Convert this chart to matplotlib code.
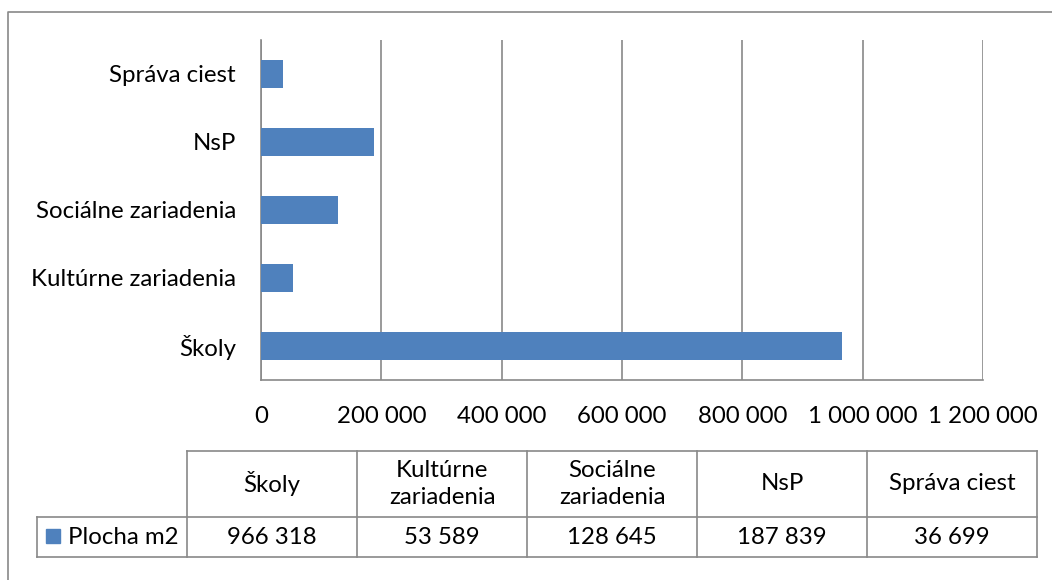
import matplotlib.pyplot as plt
from matplotlib.ticker import FuncFormatter

plt.rcParams['font.family'] = ['Lato', 'DejaVu Sans']

categories = ['Školy', 'Kultúrne zariadenia', 'Sociálne zariadenia', 'NsP', 'Správa ciest']
table_headers = ['Školy', 'Kultúrne\nzariadenia', 'Sociálne\nzariadenia', 'NsP', 'Správa ciest']
values = [966318, 53589, 128645, 187839, 36699]
series_name = 'Plocha m2'
x_ticks = [0, 200000, 400000, 600000, 800000, 1000000, 1200000]

bar_color = '#4F81BD'
line_color = '#898989'
fs = 17.3

W, H = 1052, 580


def fmt(v, pos=None):
    return f'{v:,.0f}'.replace(',', ' ')


fig = plt.figure(figsize=(W / 100, H / 100), dpi=100)

# outer chart frame (only left and top visible in the crop)
frame = fig.add_axes([0, 0, 1, 1])
frame.set_xlim(0, W)
frame.set_ylim(H, 0)
frame.axis('off')
frame.plot([7.5, 7.5, W], [H, 11.5, 11.5], color=line_color, lw=1.2)

# bar chart
left, right, top, bottom = 261, 983, 40, 380
ax = fig.add_axes([left / W, 1 - bottom / H, (right - left) / W, (bottom - top) / H])
ax.barh(range(len(categories)), values, height=0.4, color=bar_color, zorder=3)
ax.set_yticks(range(len(categories)))
ax.set_yticklabels(categories, fontsize=fs)
ax.set_ylim(-0.5, len(categories) - 0.5)
ax.set_xlim(0, x_ticks[-1])
ax.set_xticks(x_ticks)
ax.xaxis.set_major_formatter(FuncFormatter(fmt))
ax.tick_params(axis='x', length=0, pad=18.5, labelsize=fs)
ax.tick_params(axis='y', length=0, pad=18)
ax.grid(axis='x', color=line_color, lw=1.2, zorder=0)
for s in ['top', 'right']:
    ax.spines[s].set_visible(False)
for s in ['left', 'bottom']:
    ax.spines[s].set_color(line_color)
    ax.spines[s].set_linewidth(1.2)

# data table below the chart
t_left, c0, cw = 37, 187, 170
r0, r1, r2 = 451, 517, 557
n = len(values)
c_end = c0 + cw * n
frame.plot([c0, c_end], [r0, r0], color=line_color, lw=1.2)
frame.plot([t_left, c_end], [r1, r1], color=line_color, lw=1.2)
frame.plot([t_left, c_end], [r2, r2], color=line_color, lw=1.2)
frame.plot([t_left, t_left], [r1, r2], color=line_color, lw=1.2)
for i in range(n + 1):
    x = c0 + cw * i
    frame.plot([x, x], [r0, r2], color=line_color, lw=1.2)
for i, (h, v) in enumerate(zip(table_headers, values)):
    cx = c0 + cw * (i + 0.5)
    frame.text(cx, (r0 + r1) / 2, h, ha='center', va='center', fontsize=fs,
               linespacing=1.4)
    frame.text(cx, (r1 + r2) / 2, fmt(v), ha='center', va='center', fontsize=fs)
frame.add_patch(plt.Rectangle((46, 529), 14, 14, color=bar_color))
frame.text(68, (r1 + r2) / 2, series_name, ha='left', va='center', fontsize=fs)

fig.savefig('out.png', dpi=100)
